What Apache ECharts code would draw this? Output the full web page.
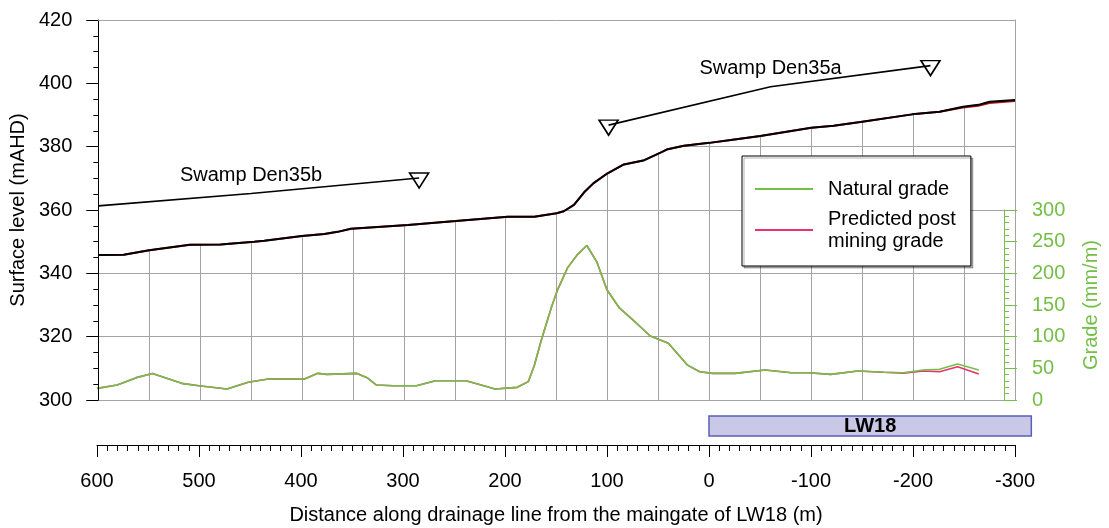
<!DOCTYPE html>
<html>
<head>
<meta charset="utf-8">
<title>Drainage line profile – LW18</title>
<script src="https://cdn.jsdelivr.net/npm/echarts@6/dist/echarts.min.js"></script>
<style>
  html, body { margin: 0; padding: 0; background: #fff; }
  #chart { width: 1109px; height: 528px; }
</style>
</head>
<body>
<div id="chart"></div>
<script>
// Ground surface along the drainage line (distance from maingate, m -> level, mAHD)
const surfaceDistance = [600, 575, 550, 510, 480, 447, 437, 400, 378, 365, 352, 296, 249, 198, 172, 150, 143, 133, 123, 114, 100, 84, 65, 48, 41, 25, 0, -21, -50, -100, -122, -150, -199, -226, -249, -264, -275, -300];
const surfaceLevel = [345.8, 345.9, 347.3, 349.0, 349.1, 350.0, 350.3, 351.8, 352.4, 353.1, 354.1, 355.3, 356.5, 357.9, 357.9, 359.0, 359.6, 361.6, 365.6, 368.4, 371.6, 374.4, 375.6, 378.1, 379.2, 380.3, 381.2, 382.1, 383.4, 386.0, 386.6, 387.9, 390.2, 391.0, 392.6, 393.2, 394.2, 394.7];
const postMiningLevel = [345.8, 345.9, 347.3, 349.0, 349.1, 350.0, 350.3, 351.8, 352.4, 353.1, 354.1, 355.3, 356.5, 357.9, 357.9, 359.0, 359.6, 361.6, 365.6, 368.4, 371.6, 374.4, 375.6, 378.1, 379.2, 380.3, 381.2, 382.1, 383.4, 386.0, 386.6, 387.9, 390.2, 391.0, 392.4, 392.9, 393.8, 394.4];

// Grade along the drainage line (mm/m)
const gradeDistance = [600, 580, 561, 545, 516, 499, 471, 450, 430, 394, 381, 372, 342, 332, 323, 306, 283, 264, 234, 225, 205, 183, 172, 166, 159, 149, 143, 133, 123, 114, 104, 94, 82, 68, 51, 33, 14, 2, -11, -33, -63, -89, -106, -128, -155, -181, -200, -220, -236, -254, -275];
const naturalGrade = [18.4, 23.7, 35.3, 42, 26.3, 22.6, 17.4, 27.9, 33.2, 33.2, 42.1, 40.5, 42, 35.3, 23.7, 22.6, 22.6, 30.5, 30.5, 26.3, 17.4, 20, 29, 55, 95, 147, 174, 209, 230, 244, 218, 174, 146, 126, 101, 89.5, 55, 44.7, 42, 42, 47.4, 43, 43, 40.5, 45.8, 43.7, 43, 47.4, 48.4, 56.8, 47.4];
const predictedGrade = [18.4, 23.7, 35.3, 42, 26.3, 22.6, 17.4, 27.9, 33.2, 33.2, 42.1, 40.5, 42, 35.3, 23.7, 22.6, 22.6, 30.5, 30.5, 26.3, 17.4, 20, 29, 55, 95, 147, 174, 209, 230, 244, 218, 174, 146, 126, 101, 89.5, 55, 44.7, 42, 42, 47.4, 43, 43, 40.5, 45.8, 43.7, 42.5, 45.8, 44.7, 52.6, 41];

// Swamp water levels
const swampNames = ['Swamp Den35b', 'Swamp Den35a'];
const den35bDistance = [600, 450, 285];
const den35bLevel = [361.3, 365.2, 370.1];
const den35aDistance = [99, -60, -217];
const den35aLevel = [386.8, 398.9, 405.6];

// Longwall panel extent
const panelName = 'LW18';
const panelExtent = [0, -316];

// Axis tick settings
const levelTicks = { min: 300, max: 420, step: 20 };
const gradeTicks = { min: 0, max: 300, step: 50 };
const distanceTicks = { min: -300, max: 600, step: 100, grid: 50 };

const FONT = '"Liberation Sans", Arial, Helvetica, sans-serif';
const GREEN = '#74bf47';
const PINK = '#e8336e';
const GRID_GREY = '#a3a3a3';

const zip = (xs, ys) => xs.map((x, i) => [x, ys[i]]);

const triangle = 'path://M0,0 L20,0 L10,16 Z';
function swampData(xs, ys, labelIdx, markerIdx, name) {
  return xs.map((x, i) => {
    const item = { value: [x, ys[i]], symbol: 'none' };
    if (markerIdx.includes(i)) {
      item.symbol = triangle;
      item.symbolSize = [19, 15];
      item.symbolOffset = [0, 2.5];
      item.itemStyle = { color: 'rgba(0,0,0,0)', borderColor: '#000', borderWidth: 1.6 };
    }
    if (i === labelIdx) {
      item.symbol = 'circle';
      item.symbolSize = 1;
      item.itemStyle = { color: 'rgba(0,0,0,0)', borderWidth: 0 };
      item.label = {
        show: true, position: 'top', distance: 8, formatter: name,
        fontFamily: FONT, fontSize: 20, color: '#000'
      };
    }
    return item;
  });
}

const noZero = { onZero: false };

const chart = echarts.init(document.getElementById('chart'), null, { renderer: 'canvas' });

const option = {
  animation: false,
  backgroundColor: '#fff',
  textStyle: { fontFamily: FONT },
  grid: [
    { left: 97, right: 94, top: 20, bottom: 128 },   // surface levels
    { left: 97, right: 94, top: 210, bottom: 128 },  // grade
    { left: 97, right: 94, top: 416, bottom: 83 }    // panel + distance axis
  ],
  legend: {
    data: ['Natural grade', 'Predicted grade'],
    orient: 'vertical',
    left: 742, top: 156,
    padding: [22, 15, 14, 13],
    itemGap: 8,
    itemWidth: 58, itemHeight: 2,
    icon: 'rect',
    backgroundColor: '#fff',
    borderColor: '#000', borderWidth: 1,
    shadowColor: 'rgba(0,0,0,0.3)', shadowBlur: 0, shadowOffsetX: 2, shadowOffsetY: 2,
    selectedMode: false,
    formatter: n => n === 'Predicted grade' ? 'Predicted post\nmining grade' : n,
    textStyle: { fontFamily: FONT, fontSize: 20, lineHeight: 22, color: '#000', padding: [0, 0, 0, 10] }
  },
  xAxis: [
    { // grid lines under the ground surface
      gridIndex: 0, type: 'value', inverse: true, position: 'bottom',
      min: distanceTicks.min, max: distanceTicks.max, interval: distanceTicks.grid,
      axisLine: { show: true, onZero: false, lineStyle: { color: GRID_GREY, width: 1 } },
      axisTick: { show: false }, axisLabel: { show: false },
      splitLine: { show: true, lineStyle: { color: GRID_GREY, width: 1 } },
      z: 0
    },
    { // top frame
      gridIndex: 0, type: 'value', inverse: true, position: 'top',
      min: distanceTicks.min, max: distanceTicks.max,
      axisLine: { show: true, onZero: false, lineStyle: { color: GRID_GREY, width: 1 } },
      axisTick: { show: false }, axisLabel: { show: false }, splitLine: { show: false },
      z: 5
    },
    {
      gridIndex: 1, type: 'value', inverse: true, show: false,
      axisLine: noZero,
      min: distanceTicks.min, max: distanceTicks.max
    },
    { // distance axis
      gridIndex: 2, type: 'value', inverse: true, position: 'bottom',
      min: distanceTicks.min, max: distanceTicks.max, interval: distanceTicks.step,
      axisLine: { show: true, onZero: false, lineStyle: { color: '#000', width: 1 } },
      axisTick: { show: true, length: 12, lineStyle: { color: '#000' } },
      minorTick: { show: true, splitNumber: 10, length: 6, lineStyle: { color: '#000' } },
      axisLabel: { show: true, margin: 26, fontFamily: FONT, fontSize: 20, color: '#000' },
      splitLine: { show: false },
      name: 'Distance along drainage line from the maingate of LW18 (m)',
      nameLocation: 'middle', nameGap: 60,
      nameTextStyle: { fontFamily: FONT, fontSize: 20, color: '#000' }
    }
  ],
  yAxis: [
    { // horizontal grid lines under the ground surface
      gridIndex: 0, type: 'value', position: 'left',
      min: levelTicks.min, max: levelTicks.max, interval: levelTicks.step,
      axisLine: { show: false, onZero: false }, axisTick: { show: false }, axisLabel: { show: false },
      splitLine: { show: true, lineStyle: { color: GRID_GREY, width: 1 } },
      z: 0
    },
    { // surface level axis
      gridIndex: 0, type: 'value', position: 'left',
      min: levelTicks.min, max: levelTicks.max, interval: levelTicks.step,
      axisLine: { show: true, onZero: false, lineStyle: { color: '#000', width: 1 } },
      axisTick: { show: true, length: 12, lineStyle: { color: '#000' } },
      minorTick: { show: true, splitNumber: 4, length: 5, lineStyle: { color: '#000' } },
      axisLabel: { show: true, margin: 26, fontFamily: FONT, fontSize: 20, color: '#000' },
      splitLine: { show: false },
      name: 'Surface level (mAHD)', nameLocation: 'middle', nameGap: 69, nameRotate: 90,
      nameTextStyle: { fontFamily: FONT, fontSize: 20, color: '#000' },
      z: 5
    },
    { // right frame
      gridIndex: 0, type: 'value', position: 'right',
      min: levelTicks.min, max: levelTicks.max,
      axisLine: { show: true, onZero: false, lineStyle: { color: GRID_GREY, width: 1 } },
      axisTick: { show: false }, axisLabel: { show: false }, splitLine: { show: false },
      z: 5
    },
    { // grade axis
      gridIndex: 1, type: 'value', position: 'right',
      min: gradeTicks.min, max: gradeTicks.max, interval: gradeTicks.step,
      axisLine: { show: true, onZero: false, lineStyle: { color: GREEN, width: 1 } },
      axisTick: { show: true, length: 13, lineStyle: { color: GREEN } },
      minorTick: { show: true, splitNumber: 5, length: 5, lineStyle: { color: GREEN } },
      axisLabel: { show: true, margin: 28, fontFamily: FONT, fontSize: 20, color: GREEN },
      splitLine: { show: false },
      name: 'Grade (mm/m)', nameLocation: 'middle', nameGap: 77, nameRotate: 90,
      nameTextStyle: { fontFamily: FONT, fontSize: 20, color: GREEN },
      z: 6
    },
    {
      gridIndex: 2, type: 'value', show: false, min: 0, max: 1,
      axisLine: noZero
    }
  ],
  series: [
    { // blanks the grid above the ground surface
      name: 'sky', type: 'line', xAxisIndex: 0, yAxisIndex: 0,
      data: zip(surfaceDistance, surfaceLevel),
      symbol: 'none', silent: true,
      lineStyle: { width: 0, opacity: 0 },
      areaStyle: { color: '#fff', opacity: 1, origin: 'end' },
      z: 1
    },
    {
      name: 'Post mining surface', type: 'line', xAxisIndex: 0, yAxisIndex: 0,
      data: zip(surfaceDistance, postMiningLevel),
      symbol: 'none', silent: true,
      lineStyle: { color: '#b3161c', width: 2 },
      z: 3
    },
    {
      name: 'Surface', type: 'line', xAxisIndex: 0, yAxisIndex: 0,
      data: zip(surfaceDistance, surfaceLevel),
      symbol: 'none', silent: true,
      lineStyle: { color: '#000', width: 2 },
      z: 4
    },
    {
      name: swampNames[0], type: 'line', xAxisIndex: 0, yAxisIndex: 0,
      data: swampData(den35bDistance, den35bLevel, 1, [2], swampNames[0]),
      showAllSymbol: true, silent: true,
      lineStyle: { color: '#000', width: 1.6 },
      itemStyle: { color: '#000' },
      z: 4
    },
    {
      name: swampNames[1], type: 'line', xAxisIndex: 0, yAxisIndex: 0,
      data: swampData(den35aDistance, den35aLevel, 1, [0, 2], swampNames[1]),
      showAllSymbol: true, silent: true,
      lineStyle: { color: '#000', width: 1.6 },
      itemStyle: { color: '#000' },
      z: 4
    },
    {
      name: 'Predicted grade', type: 'line', xAxisIndex: 2, yAxisIndex: 3,
      data: zip(gradeDistance, predictedGrade),
      symbol: 'none', silent: true,
      color: PINK,
      lineStyle: { color: PINK, width: 1.6 },
      z: 3
    },
    {
      name: 'Natural grade', type: 'line', xAxisIndex: 2, yAxisIndex: 3,
      data: zip(gradeDistance, naturalGrade),
      symbol: 'none', silent: true,
      color: GREEN,
      lineStyle: { color: GREEN, width: 1.6 },
      z: 4
    },
    {
      name: panelName, type: 'custom', xAxisIndex: 3, yAxisIndex: 4,
      data: [panelExtent],
      encode: { x: [0, 1] },
      silent: true, clip: false,
      renderItem: (params, api) => {
        const a = api.coord([api.value(0), 1]);
        const b = api.coord([api.value(1), 1]);
        return {
          type: 'rect',
          shape: { x: a[0], y: a[1], width: b[0] - a[0], height: 20 },
          style: { fill: '#c9c8e6', stroke: '#5b5fb6', lineWidth: 1.5 },
          textContent: {
            style: { text: panelName, fontFamily: FONT, fontSize: 20, fontWeight: 'bold', fill: '#000' }
          },
          textConfig: { position: 'inside' }
        };
      }
    }
  ]
};

chart.setOption(option);
</script>
</body>
</html>
